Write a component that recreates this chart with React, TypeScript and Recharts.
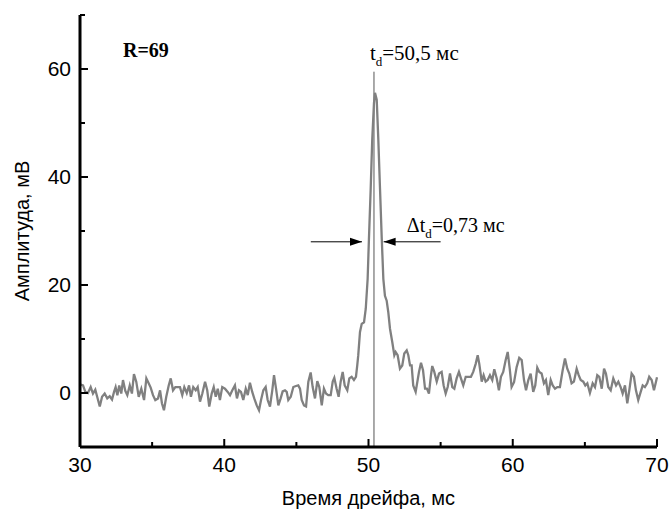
import React from "react";
import {
    LineChart,
    Line,
    XAxis,
    YAxis,
    ReferenceLine,
    ReferenceDot,
} from "recharts";

// drift time (ms), amplitude (mV)
const traceStart: [number, number][] = [
    [30.0, 1.6], [30.21, 1.4], [30.37, 0.2], [30.55, 0.0], [30.74, 1.1], [30.9, -0.1], [31.06, 0.6], [31.2, -0.8],
    [31.37, -2.5], [31.53, -0.7], [31.71, -0.1], [31.89, -1.0], [32.06, -0.6], [32.22, -1.2], [32.36, 0.2], [32.47, 1.1],
    [32.59, -0.4], [32.72, 1.4], [32.86, -0.1], [32.98, 2.4], [33.14, 0.4], [33.28, -0.4], [33.45, 1.4], [33.6, -0.1],
    [33.74, 3.5], [33.9, 2.1], [34.07, -0.7], [34.25, 0.8], [34.44, -1.3], [34.6, 2.7], [34.76, 1.8], [34.9, 1.0],
    [35.06, -0.4], [35.22, -1.3], [35.41, -1.0], [35.55, 0.5], [35.68, -1.9], [35.82, -3.2], [35.98, -0.7], [36.15, 1.4],
    [36.29, 2.7], [36.45, 0.5], [36.61, 1.1], [36.79, 1.1], [36.93, 1.1], [37.09, -0.4], [37.23, 1.1], [37.4, 0.0],
    [37.56, 1.4], [37.69, -0.7], [37.85, 1.1], [38.02, 0.5], [38.16, 1.1], [38.32, -1.6], [38.48, -0.1], [38.67, 2.1],
    [38.82, 0.5], [38.96, -2.5], [39.13, -0.1], [39.27, 1.1], [39.41, -0.7], [39.55, 0.8], [39.7, -1.3], [39.86, 1.1],
];

const traceBeforePeak: [number, number][] = [
    [40.05, 0.8], [40.24, 0.2], [40.4, -0.4], [40.56, 0.5], [40.74, 1.4], [40.88, -1.0], [41.02, 0.5], [41.16, 0.2],
    [41.32, -1.3], [41.49, 0.8], [41.63, -0.4], [41.78, 1.9], [41.94, 0.2], [42.08, -1.0], [42.25, -2.3], [42.41, -3.2],
    [42.55, -1.3], [42.71, 0.5], [42.87, 1.1], [43.01, -1.3], [43.17, -2.5], [43.33, 0.5], [43.45, 3.3], [43.59, 0.8],
    [43.75, -2.3], [43.91, -1.0], [44.05, 0.3], [44.21, 0.5], [44.33, 0.2], [44.44, -1.3], [44.61, -0.7], [44.79, 1.1],
    [44.97, 1.3], [45.13, 1.4], [45.25, 0.8], [45.37, -1.3], [45.53, -2.3], [45.67, -2.5], [45.83, 2.1], [45.99, 3.8],
    [46.13, 1.1], [46.29, -1.0], [46.45, 2.2], [46.59, 1.1], [46.76, -2.3], [46.91, 0.8], [47.05, -0.1], [47.21, -0.4],
    [47.38, -0.4], [47.52, 2.1], [47.63, 2.8], [47.79, 0.8], [47.93, -0.7], [48.07, 2.1], [48.21, 3.9], [48.35, 1.4],
    [48.53, 0.5], [48.67, 2.7], [48.83, 3.0], [48.99, 2.4], [49.13, 3.0],
];

const tracePeak: [number, number][] = [
    [49.22, 5.1], [49.29, 7.0], [49.41, 11.3], [49.53, 12.8], [49.69, 13.1], [49.81, 15.6], [49.94, 21.1], [50.03, 28.5],
    [50.15, 37.7], [50.26, 47.0], [50.38, 53.7], [50.45, 55.6], [50.57, 54.3], [50.68, 47.0], [50.8, 37.7], [50.92, 28.5],
    [51.03, 21.1], [51.14, 18.0], [51.26, 17.1], [51.37, 15.0], [51.49, 11.9], [51.65, 9.4], [51.79, 7.0], [51.88, 7.6],
    [52.02, 7.0], [52.18, 4.5], [52.34, 5.1], [52.48, 7.3], [52.65, 7.9], [52.76, 7.0], [52.88, 5.1], [52.99, 5.1],
    [53.1, 1.4], [53.27, 0.2],
];

const traceAfterPeak: [number, number][] = [
    [53.5, 3.9], [53.64, 5.6], [53.78, 4.2], [53.92, 0.8], [54.05, 0.8], [54.19, -0.1], [54.33, 3.3], [54.42, 5.0],
    [54.56, 3.9], [54.73, 2.1], [54.89, 3.6], [55.07, 3.9], [55.21, 1.4], [55.35, -0.1], [55.49, 1.1], [55.65, 3.6],
    [55.81, 1.1], [55.95, 0.8], [56.11, 2.7], [56.27, 3.9], [56.41, 2.7], [56.57, 1.4], [56.74, 3.0], [56.92, 3.0],
    [57.1, 3.0], [57.26, 3.9], [57.43, 5.4], [57.57, 7.0], [57.68, 5.4], [57.85, 2.1], [57.98, 3.3], [58.12, 2.1],
    [58.26, 2.4], [58.42, 3.3], [58.58, 2.4], [58.72, 4.4], [58.89, 2.7], [59.04, 0.5], [59.18, 3.0], [59.34, 3.9],
    [59.51, 6.1], [59.65, 7.6], [59.79, 4.5], [59.92, 1.1], [60.09, 2.0], [60.27, 4.8], [60.45, 6.5], [60.62, 6.1],
    [60.78, 2.4], [60.92, 0.5], [61.08, 2.4], [61.24, 3.6], [61.42, 0.2], [61.56, 1.4], [61.7, 4.7], [61.84, 3.9],
    [62.0, 3.6], [62.16, 1.8], [62.3, 2.4], [62.46, -0.4], [62.63, 2.4], [62.77, 1.4], [62.93, 0.8], [63.09, 1.1],
    [63.27, 1.1], [63.46, 4.2], [63.62, 6.4], [63.78, 4.5], [63.92, 3.6], [64.08, 1.8], [64.24, 2.1], [64.43, 4.5],
    [64.57, 3.3], [64.71, 2.4], [64.89, 2.1], [65.03, 1.4], [65.17, 1.8], [65.35, 0.0], [65.54, 1.8], [65.7, 1.1],
    [65.86, 3.3], [66.0, 3.0], [66.17, 0.8], [66.33, 4.5], [66.46, 3.6], [66.62, 1.1], [66.79, 0.5], [66.97, 2.7],
    [67.16, 1.4], [67.32, 2.1], [67.48, 1.1], [67.62, -0.1], [67.78, 1.4], [67.94, -1.9], [68.08, 0.5], [68.24, 3.6],
    [68.4, 3.0], [68.54, 0.5], [68.7, -1.3], [68.87, 0.2], [69.01, 1.4], [69.16, 1.1], [69.32, 1.8], [69.46, 3.0],
    [69.63, 2.4], [69.79, 0.5], [69.93, 2.1], [70.0, 2.9],
];

const xTicks = [30, 35, 40, 45, 50, 55, 60, 65, 70];
const yTicks = [-10, 0, 10, 20, 30, 40, 50, 60, 70];

// annotation anchors (data units)
const peakTime = 50.38;
const peakMarkerTop = 59.5;
const halfHeight = 28;
const leftArrow = { from: 46.0, to: 49.55 };
const rightArrow = { from: 55.0, to: 51.05 };

const data = [...traceStart, ...traceBeforePeak, ...tracePeak, ...traceAfterPeak].map(([t, a]) => ({ t, a }));

const SANS = "'Liberation Sans', Arial, sans-serif";
const SERIF = "'Liberation Serif', 'Times New Roman', serif";

function YTick(props: any) {
    const { x, y, payload } = props;
    const v = payload.value;
    const major = v % 20 === 0;
    return (
        <g>
            <line x1={x} x2={x + (major ? 8 : 5)} y1={y} y2={y} stroke="#000" strokeWidth={2} />
            {major && (
                <text x={x - 9} y={y} dy={7} textAnchor="end" fontFamily={SANS} fontSize={21} fill="#000">
                    {v}
                </text>
            )}
        </g>
    );
}

function XTick(props: any) {
    const { x, y, payload } = props;
    const v = payload.value;
    const major = v % 10 === 0;
    return (
        <g>
            <line x1={x} x2={x} y1={y} y2={y - (major ? 8 : 5)} stroke="#000" strokeWidth={2} />
            {major && (
                <text x={x} y={y + 25} textAnchor="middle" fontFamily={SANS} fontSize={21} fill="#000">
                    {v}
                </text>
            )}
        </g>
    );
}

function arrowHead(dir: 1 | -1) {
    return (p: any) => (
        <polygon
            points={`${p.cx},${p.cy} ${p.cx - dir * 12},${p.cy - 4} ${p.cx - dir * 12},${p.cy + 4}`}
            fill="#000"
        />
    );
}

export default function App() {
    return (
        <div style={{ position: "absolute", left: 0, top: 0, width: 670, height: 512, background: "#fff" }}>
            <LineChart width={670} height={512} data={data} margin={{ top: 15, right: 13, left: 0, bottom: 0 }}>
                <XAxis
                    dataKey="t"
                    type="number"
                    domain={[30, 70]}
                    ticks={xTicks}
                    interval={0}
                    height={65}
                    tickSize={0}
                    tickMargin={0}
                    tickLine={false}
                    axisLine={{ stroke: "#000", strokeWidth: 3 }}
                    tick={<XTick />}
                    label={{
                        value: "Время дрейфа, мс",
                        position: "insideBottom",
                        offset: 7,
                        style: { fontFamily: SANS, fontSize: 20, fill: "#000" },
                    }}
                />
                <YAxis
                    type="number"
                    domain={[-10, 70]}
                    ticks={yTicks}
                    interval={0}
                    width={80}
                    tickSize={0}
                    tickMargin={0}
                    tickLine={false}
                    axisLine={{ stroke: "#000", strokeWidth: 3 }}
                    tick={<YTick />}
                    label={{
                        content: (p: any) => {
                            const vb = p.viewBox;
                            const cx = vb.x + 22;
                            const cy = vb.y + vb.height / 2;
                            return (
                                <text
                                    x={cx}
                                    y={cy}
                                    transform={`rotate(-90 ${cx} ${cy})`}
                                    textAnchor="middle"
                                    dominantBaseline="central"
                                    fontFamily={SANS}
                                    fontSize={20}
                                    fill="#000"
                                >
                                    Амплитуда, мВ
                                </text>
                            );
                        },
                    }}
                />
                <ReferenceLine
                    segment={[{ x: peakTime, y: -10 }, { x: peakTime, y: peakMarkerTop }]}
                    stroke="#555"
                    strokeWidth={1}
                />
                <Line
                    type="linear"
                    dataKey="a"
                    stroke="#808080"
                    strokeWidth={2.3}
                    dot={false}
                    isAnimationActive={false}
                />
                <ReferenceLine
                    segment={[{ x: leftArrow.from, y: halfHeight }, { x: leftArrow.to, y: halfHeight }]}
                    stroke="#000"
                    strokeWidth={1}
                />
                <ReferenceLine
                    segment={[{ x: rightArrow.from, y: halfHeight }, { x: rightArrow.to, y: halfHeight }]}
                    stroke="#000"
                    strokeWidth={1}
                />
                <ReferenceDot x={leftArrow.to} y={halfHeight} shape={arrowHead(1)} />
                <ReferenceDot x={rightArrow.to} y={halfHeight} shape={arrowHead(-1)} />
                <ReferenceDot
                    x={32.98}
                    y={62.3}
                    shape={(p: any) => (
                        <text x={p.cx} y={p.cy} fontFamily={SERIF} fontWeight="bold" fontSize={20} fill="#000">
                            R=69
                        </text>
                    )}
                />
                <ReferenceDot
                    x={50.1}
                    y={61.7}
                    shape={(p: any) => (
                        <text x={p.cx} y={p.cy} fontFamily={SERIF} fontSize={21} fill="#000">
                            <tspan>t</tspan>
                            <tspan dy={6} fontSize={13}>d</tspan>
                            <tspan dy={-6}>=50,5 мс</tspan>
                        </text>
                    )}
                />
                <ReferenceDot
                    x={52.66}
                    y={29.8}
                    shape={(p: any) => (
                        <text x={p.cx} y={p.cy} fontFamily={SERIF} fontSize={20} fill="#000">
                            <tspan>Δt</tspan>
                            <tspan dy={6} fontSize={13}>d</tspan>
                            <tspan dy={-6}>=0,73 мс</tspan>
                        </text>
                    )}
                />
            </LineChart>
        </div>
    );
}
